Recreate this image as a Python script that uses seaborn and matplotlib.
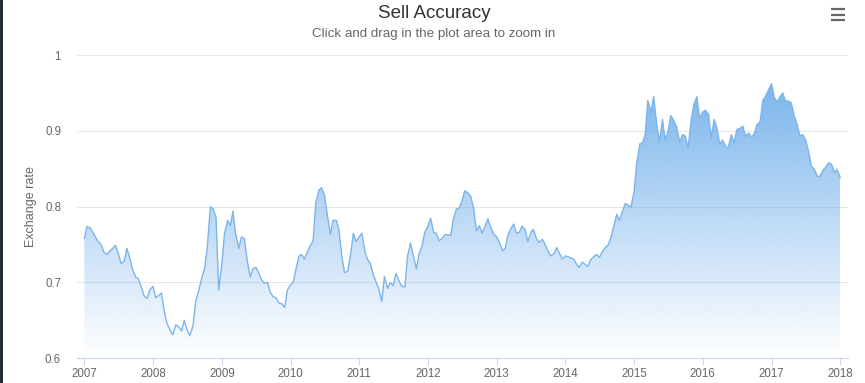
import numpy as np
import pandas as pd
import matplotlib
matplotlib.use("Agg")
import matplotlib.pyplot as plt
import matplotlib.dates as mdates
from matplotlib.colors import to_rgb
from matplotlib.patches import Rectangle
from matplotlib.lines import Line2D
import seaborn as sns

# ---------------- data (semi-monthly readings) ----------------
START_DATE = "2007-01-01"
rate_2007 = [0.758, 0.774, 0.772, 0.766, 0.760, 0.754, 0.750, 0.740, 0.737, 0.741, 0.745, 0.749,
             0.738, 0.725, 0.728, 0.745, 0.731, 0.717, 0.707, 0.705, 0.693, 0.682, 0.679, 0.690]
rate_2008 = [0.695, 0.680, 0.683, 0.686, 0.662, 0.646, 0.637, 0.631, 0.644, 0.642, 0.636, 0.650,
             0.637, 0.630, 0.643, 0.675, 0.690, 0.705, 0.718, 0.745, 0.800, 0.797, 0.786, 0.690]
rate_2009 = [0.725, 0.765, 0.782, 0.775, 0.794, 0.765, 0.745, 0.760, 0.758, 0.730, 0.707, 0.718,
             0.720, 0.713, 0.703, 0.699, 0.700, 0.687, 0.681, 0.680, 0.673, 0.672, 0.667, 0.690]
rate_2010 = [0.697, 0.700, 0.720, 0.735, 0.737, 0.731, 0.740, 0.748, 0.755, 0.805, 0.822, 0.825,
             0.815, 0.790, 0.764, 0.782, 0.782, 0.770, 0.734, 0.713, 0.715, 0.735, 0.765, 0.754]
rate_2011 = [0.760, 0.765, 0.740, 0.730, 0.725, 0.712, 0.700, 0.692, 0.675, 0.708, 0.692, 0.700,
             0.696, 0.712, 0.702, 0.695, 0.694, 0.735, 0.752, 0.736, 0.718, 0.738, 0.748, 0.766]
rate_2012 = [0.774, 0.785, 0.766, 0.765, 0.755, 0.758, 0.763, 0.763, 0.762, 0.783, 0.797, 0.798,
             0.808, 0.821, 0.818, 0.814, 0.797, 0.768, 0.775, 0.765, 0.775, 0.784, 0.772, 0.764]
rate_2013 = [0.760, 0.753, 0.742, 0.745, 0.762, 0.770, 0.777, 0.765, 0.766, 0.774, 0.770, 0.754,
             0.766, 0.770, 0.757, 0.753, 0.757, 0.750, 0.741, 0.735, 0.738, 0.746, 0.738, 0.731]
rate_2014 = [0.735, 0.734, 0.732, 0.731, 0.724, 0.720, 0.727, 0.724, 0.721, 0.730, 0.734, 0.737,
             0.733, 0.740, 0.746, 0.749, 0.760, 0.774, 0.790, 0.782, 0.794, 0.804, 0.802, 0.799]
rate_2015 = [0.820, 0.858, 0.883, 0.884, 0.895, 0.940, 0.925, 0.945, 0.910, 0.885, 0.915, 0.888,
             0.900, 0.920, 0.913, 0.905, 0.885, 0.895, 0.893, 0.877, 0.915, 0.935, 0.945, 0.917]
rate_2016 = [0.925, 0.927, 0.922, 0.890, 0.915, 0.905, 0.882, 0.888, 0.880, 0.877, 0.895, 0.884,
             0.902, 0.903, 0.906, 0.893, 0.897, 0.892, 0.896, 0.908, 0.912, 0.940, 0.946, 0.954]
rate_2017 = [0.962, 0.944, 0.938, 0.945, 0.950, 0.940, 0.939, 0.937, 0.920, 0.910, 0.893, 0.895,
             0.888, 0.874, 0.853, 0.850, 0.840, 0.840, 0.848, 0.852, 0.858, 0.856, 0.845, 0.849]
rate_2018 = [0.838]

y_ticks = [0.6, 0.7, 0.8, 0.9, 1.0]
y_tick_labels = ["0.6", "0.7", "0.8", "0.9", "1"]
title_text = "Sell Accuracy"
subtitle_text = "Click and drag in the plot area to zoom in"
ylabel_text = "Exchange rate"

values = (rate_2007 + rate_2008 + rate_2009 + rate_2010 + rate_2011 + rate_2012 +
          rate_2013 + rate_2014 + rate_2015 + rate_2016 + rate_2017 + rate_2018)
dates = pd.date_range(START_DATE, periods=len(values), freq="SMS")
df = pd.DataFrame({"date": dates, "rate": values})

# ---------------- styling ----------------
sns.set_theme(style="white")
plt.rcParams["font.family"] = ["Liberation Sans", "DejaVu Sans"]

W, H = 865, 383
fig = plt.figure(figsize=(W / 100, H / 100), dpi=100)
fig.patch.set_facecolor("white")

L, R, T, B = 77, 848, 55, 358.3
ax = fig.add_axes([L / W, 1 - B / H, (R - L) / W, (B - T) / H])
ax.set_facecolor("white")

line_color = "#7cb5ec"

# area with vertical gradient
poly = ax.fill_between(df["date"], df["rate"], 0.6, facecolor="none", edgecolor="none")
n = 256
rgba = np.zeros((n, 1, 4))
rgba[..., :3] = to_rgb(line_color)
rgba[..., 3] = np.linspace(1.0, 0.0, n)[:, None]
x0 = mdates.date2num(df["date"].iloc[0])
x1 = mdates.date2num(df["date"].iloc[-1])
im = ax.imshow(rgba, extent=[x0, x1, 0.6, max(values)], origin="upper",
               aspect="auto", zorder=1, interpolation="bilinear")
im.set_clip_path(poly.get_paths()[0], transform=ax.transData)

sns.lineplot(data=df, x="date", y="rate", color=line_color, linewidth=1.0, ax=ax, zorder=3)

ax.set_ylim(0.6, 1.0)
ax.set_xlim(pd.Timestamp("2006-11-23"), pd.Timestamp("2018-02-11"))
ax.set_yticks(y_ticks)
ax.set_yticklabels(y_tick_labels)
ax.xaxis.set_major_locator(mdates.YearLocator())
ax.xaxis.set_major_formatter(mdates.DateFormatter("%Y"))

for s in ["top", "right", "left"]:
    ax.spines[s].set_visible(False)
ax.spines["bottom"].set_color("#ccd6eb")
ax.spines["bottom"].set_linewidth(0.8)
ax.spines["bottom"].set_zorder(4)

ax.grid(axis="y", color="#e6e6e6", linewidth=0.75, zorder=0)
ax.grid(axis="x", visible=False)
ax.set_axisbelow(True)

ax.tick_params(axis="y", length=0, pad=11.5, labelsize=8.3, labelcolor="#666666")
ax.tick_params(axis="x", bottom=True, length=5, width=0.75, color="#ccd6eb", pad=2,
               labelsize=8.3, labelcolor="#666666", direction="out")

ax.set_xlabel("")
ax.set_ylabel(ylabel_text, fontsize=9, color="#666666", va="center")
ax.yaxis.set_label_coords((31 - L) / (R - L), 0.5)

fig.text(434 / W, 1 - 13 / H, title_text, ha="center", va="center", fontsize=13.5, color="#333333")
fig.text(434 / W, 1 - 34 / H, subtitle_text, ha="center", va="center", fontsize=9.6, color="#666666")

# left dark border of the screenshot
fig.add_artist(Rectangle((0, 0), 2.5 / W, 1, transform=fig.transFigure,
                         facecolor="#252b36", edgecolor="none"))
# menu icon
for yy in (9, 14.5, 20):
    fig.add_artist(Line2D([831 / W, 845 / W], [1 - yy / H, 1 - yy / H],
                          transform=fig.transFigure, color="#666666", linewidth=1.6,
                          solid_capstyle="butt"))

fig.savefig("out.png", dpi=100, facecolor="white")
